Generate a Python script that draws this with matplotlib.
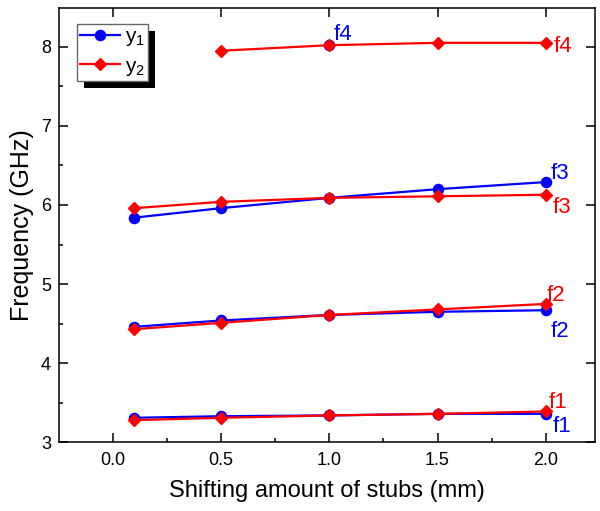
import matplotlib
matplotlib.use("Agg")
import matplotlib.pyplot as plt
from matplotlib.ticker import MultipleLocator, FormatStrFormatter
from matplotlib.patches import Rectangle
from matplotlib.transforms import IdentityTransform

plt.rcParams['font.family'] = ['Liberation Sans', 'DejaVu Sans']
plt.rcParams['mathtext.fontset'] = 'custom'
plt.rcParams['mathtext.rm'] = 'Liberation Sans'
plt.rcParams['mathtext.it'] = 'Liberation Sans'

x = [0.1, 0.5, 1.0, 1.5, 2.0]
y1_f1 = [3.31, 3.33, 3.34, 3.36, 3.36]
y1_f2 = [4.46, 4.54, 4.61, 4.65, 4.67]
y1_f3 = [5.84, 5.96, 6.09, 6.20, 6.29]
y1_f4_x = [1.0]
y1_f4 = [8.02]
y2_f1 = [3.28, 3.31, 3.34, 3.36, 3.39]
y2_f2 = [4.43, 4.51, 4.61, 4.68, 4.75]
y2_f3 = [5.96, 6.04, 6.09, 6.11, 6.13]
y2_f4_x = [0.5, 1.0, 1.5, 2.0]
y2_f4 = [7.95, 8.02, 8.05, 8.05]

blue = '#0000ff'
red = '#ff0000'

fig = plt.figure(figsize=(6.0, 5.11), dpi=100)
ax = fig.add_axes([0.0988, 0.1344, 0.8929, 0.8499])

bkw = dict(color=blue, marker='o', markersize=7.3, lw=1.6)
rkw = dict(color=red, marker='D', markersize=5.8, lw=1.6)

l1, = ax.plot(x, y1_f1, **bkw)
ax.plot(x, y1_f2, **bkw)
ax.plot(x, y1_f3, **bkw)
ax.plot(y1_f4_x, y1_f4, **bkw)
l2, = ax.plot(x, y2_f1, **rkw)
ax.plot(x, y2_f2, **rkw)
ax.plot(x, y2_f3, **rkw)
ax.plot(y2_f4_x, y2_f4, **rkw)

fs = 16
tk = dict(fontsize=fs, va='center_baseline', ha='left')
ax.text(2.03, 3.23, 'f1', color=blue, **tk)
ax.text(2.015, 3.535, 'f1', color=red, **tk)
ax.text(2.02, 4.43, 'f2', color=blue, **tk)
ax.text(2.005, 4.89, 'f2', color=red, **tk)
ax.text(2.02, 6.43, 'f3', color=blue, **tk)
ax.text(2.03, 6.00, 'f3', color=red, **tk)
ax.text(1.022, 8.19, 'f4', color=blue, **tk)
ax.text(2.035, 8.03, 'f4', color=red, **tk)

ax.set_xlim(-0.2465, 2.227)
ax.set_ylim(3.0, 8.49)
ax.xaxis.set_major_locator(MultipleLocator(0.5))
ax.xaxis.set_minor_locator(MultipleLocator(0.25))
ax.yaxis.set_major_locator(MultipleLocator(1))
ax.yaxis.set_minor_locator(MultipleLocator(0.5))
ax.xaxis.set_major_formatter(FormatStrFormatter('%.1f'))
ax.tick_params(which='both', direction='in', top=True, right=True, labelsize=13)
ax.tick_params(which='major', length=6.5, width=1.1)
ax.tick_params(which='minor', length=3.2, width=1.1)
ax.tick_params(axis='x', which='major', pad=7)
ax.tick_params(axis='y', which='major', pad=6)
ax.tick_params(axis='x', which='minor', top=False)
ax.tick_params(axis='y', which='minor', right=False)
for s in ax.spines.values():
    s.set_linewidth(1.1)

ax.set_xlabel('Shifting amount of stubs (mm)', fontsize=17, labelpad=8)
ax.set_ylabel('Frequency (GHz)', fontsize=18, labelpad=5)

leg = ax.legend([l1, l2], ['y$_1$', 'y$_2$'], loc='upper left',
                bbox_to_anchor=(0.0336, 0.963), fontsize=15, frameon=True,
                fancybox=False, handlelength=1.9, handletextpad=0.25,
                borderpad=0.15, labelspacing=0.4, borderaxespad=0.0)
leg.get_frame().set_edgecolor('#666666')
leg.get_frame().set_linewidth(1.0)
leg.get_frame().set_facecolor('white')
leg.get_frame().set_alpha(1)
leg.set_zorder(10)

fig.canvas.draw()
bb = leg.get_window_extent()
shadow = Rectangle((bb.x0 + 7, bb.y0 - 7), bb.width, bb.height,
                   transform=IdentityTransform(), facecolor='black',
                   edgecolor='none', zorder=9, clip_on=False)
ax.add_artist(shadow)

fig.savefig('out.png', dpi=100)
